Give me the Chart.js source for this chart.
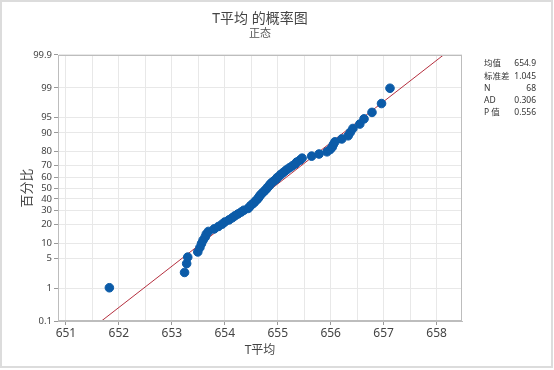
<!DOCTYPE html>
<html>
<head>
<meta charset="utf-8">
<script src="https://cdn.jsdelivr.net/npm/chart.js@4/dist/chart.umd.min.js"></script>
<style>
  body { margin: 0; background: #fff; }
  canvas { display: block; }
</style>
</head>
<body>
<canvas id="probPlot" width="554" height="370"></canvas>
<script>
// Sorted T平均 values
const tAvg = [651.82, 653.24, 653.28, 653.30, 653.49, 653.53, 653.56, 653.59, 653.63, 653.65,
  653.69, 653.80, 653.88, 653.95, 654.00, 654.08, 654.14, 654.19, 654.25, 654.31,
  654.36, 654.44, 654.47, 654.50, 654.54, 654.57, 654.60, 654.63, 654.65, 654.67,
  654.70, 654.73, 654.76, 654.79, 654.81, 654.84, 654.86, 654.89, 654.93, 654.97,
  654.99, 655.03, 655.06, 655.10, 655.14, 655.18, 655.23, 655.28, 655.33, 655.36,
  655.42, 655.46, 655.64, 655.78, 655.93, 655.99, 656.03, 656.05, 656.08, 656.21,
  656.33, 656.37, 656.42, 656.55, 656.63, 656.78, 656.96, 657.12];

// Y axis percent ticks
const pctTicks = [0.1, 1, 5, 10, 20, 30, 40, 50, 60, 70, 80, 90, 95, 99, 99.9];
const pctLabels = ['0.1', '1', '5', '10', '20', '30', '40', '50', '60', '70', '80', '90', '95', '99', '99.9'];

// X axis ticks (labels on whole numbers only)
const xTicks = [651, 651.5, 652, 652.5, 653, 653.5, 654, 654.5, 655, 655.5, 656, 656.5, 657, 657.5, 658];

// Summary table
const statLabels = ['均值', '标准差', 'N', 'AD', 'P 值'];
const statValues = ['654.9', '1.045', '68', '0.306', '0.556'];
const fitMean = 654.9;
const fitSd = 1.045;

// inverse normal CDF (Acklam) - used for the probability scale
function probit(p) {
  const a = [-3.969683028665376e+01, 2.209460984245205e+02, -2.759285104469687e+02, 1.383577518672690e+02, -3.066479806614716e+01, 2.506628277459239e+00];
  const b = [-5.447609879822406e+01, 1.615858368580409e+02, -1.556989798598866e+02, 6.680131188771972e+01, -1.328068155288572e+01];
  const c = [-7.784894002430293e-03, -3.223964580411365e-01, -2.400758277161838e+00, -2.549732539343734e+00, 4.374664141464968e+00, 2.938163982698783e+00];
  const d = [7.784695709041462e-03, 3.224671290700398e-01, 2.445134137142996e+00, 3.754408661907416e+00];
  const pl = 0.02425;
  if (p < pl) {
    const q = Math.sqrt(-2 * Math.log(p));
    return (((((c[0]*q+c[1])*q+c[2])*q+c[3])*q+c[4])*q+c[5]) / ((((d[0]*q+d[1])*q+d[2])*q+d[3])*q+1);
  }
  if (p > 1 - pl) {
    const q = Math.sqrt(-2 * Math.log(1 - p));
    return -(((((c[0]*q+c[1])*q+c[2])*q+c[3])*q+c[4])*q+c[5]) / ((((d[0]*q+d[1])*q+d[2])*q+d[3])*q+1);
  }
  const q = p - 0.5, r = q * q;
  return (((((a[0]*r+a[1])*r+a[2])*r+a[3])*r+a[4])*r+a[5])*q / (((((b[0]*r+b[1])*r+b[2])*r+b[3])*r+b[4])*r+1);
}

// median-rank plotting positions, like Minitab
const n = tAvg.length;
const points = tAvg.map((v, i) => ({ x: v, y: probit((i + 1 - 0.3) / (n + 0.4)) }));

const zLo = probit(0.001);
const zHi = probit(0.999);
const fitLine = [
  { x: fitMean + fitSd * zLo, y: zLo },
  { x: fitMean + fitSd * zHi, y: zHi }
];

const FONT = '"Noto Sans", "Noto Sans CJK SC", sans-serif';

const decorations = {
  id: 'decorations',
  afterDraw(chart) {
    const { ctx, chartArea } = chart;
    const cx = (chartArea.left + chartArea.right) / 2;
    ctx.save();
    // outer border
    ctx.strokeStyle = '#dcdcdc';
    ctx.lineWidth = 2;
    ctx.strokeRect(1, 1, 551, 366);
    // plot frame
    ctx.strokeStyle = '#bdbdbd';
    ctx.lineWidth = 1;
    ctx.strokeRect(chartArea.left + 0.5, chartArea.top + 0.5,
      chartArea.right - chartArea.left - 1, chartArea.bottom - chartArea.top - 1);
    // titles
    ctx.textAlign = 'center';
    ctx.textBaseline = 'middle';
    ctx.fillStyle = '#444';
    ctx.font = '14px ' + FONT;
    ctx.fillText('T平均 的概率图', cx, 19);
    ctx.fillStyle = '#555';
    ctx.font = '11px ' + FONT;
    ctx.fillText('正态', cx, 34);
    // stats table
    ctx.font = '8.5px ' + FONT;
    ctx.fillStyle = '#333';
    statLabels.forEach((lab, i) => {
      const y = 64 + i * 12.2;
      ctx.textAlign = 'left';
      ctx.fillText(lab, 484, y);
      ctx.textAlign = 'right';
      ctx.fillText(statValues[i], 536, y);
    });
    ctx.restore();
  }
};

new Chart(document.getElementById('probPlot'), {
  type: 'scatter',
  data: {
    datasets: [
      {
        label: 'T平均',
        data: points,
        backgroundColor: '#0b5ba8',
        borderColor: '#0b5ba8',
        pointRadius: 4.3,
        order: 1
      },
      {
        label: 'fit',
        type: 'line',
        data: fitLine,
        borderColor: '#b5303f',
        borderWidth: 1,
        pointRadius: 0,
        order: 2
      }
    ]
  },
  options: {
    responsive: false,
    animation: false,
    devicePixelRatio: 1,
    layout: { padding: { top: 55, right: 92, left: 0, bottom: 0 } },
    plugins: { legend: { display: false }, tooltip: { enabled: false } },
    scales: {
      x: {
        type: 'linear',
        min: 650.85,
        max: 658.48,
        afterFit(scale) { scale.height = 49; },
        afterBuildTicks(scale) { scale.ticks = xTicks.map(v => ({ value: v })); },
        ticks: {
          autoSkip: false,
          maxRotation: 0,
          padding: 1,
          color: '#444',
          font: { family: FONT, size: 12 },
          callback: (v) => (v % 1 === 0 ? String(v) : '')
        },
        grid: {
          color: '#e8e8e8',
          tickLength: 4,
          tickColor: (ctx) => (ctx.tick && ctx.tick.value % 1 === 0 ? '#999' : 'rgba(0,0,0,0)')
        },
        border: { color: '#bdbdbd' },
        title: {
          display: true,
          text: 'T平均',
          color: '#444',
          font: { family: FONT, size: 12 },
          padding: { top: 0, bottom: 12 }
        }
      },
      y: {
        type: 'linear',
        min: zLo,
        max: zHi,
        afterFit(scale) { scale.width = 58; },
        afterBuildTicks(scale) { scale.ticks = pctTicks.map(p => ({ value: probit(p / 100) })); },
        ticks: {
          autoSkip: false,
          padding: 2,
          color: '#444',
          font: { family: FONT, size: 9.5 },
          callback: (v, i) => pctLabels[i]
        },
        grid: { color: '#e8e8e8', tickLength: 4, tickColor: '#999' },
        border: { color: '#bdbdbd' },
        title: {
          display: true,
          text: '百分比',
          color: '#444',
          font: { family: FONT, size: 13 },
          padding: { top: 19, bottom: 0 }
        }
      }
    }
  },
  plugins: [decorations]
});
</script>
</body>
</html>
